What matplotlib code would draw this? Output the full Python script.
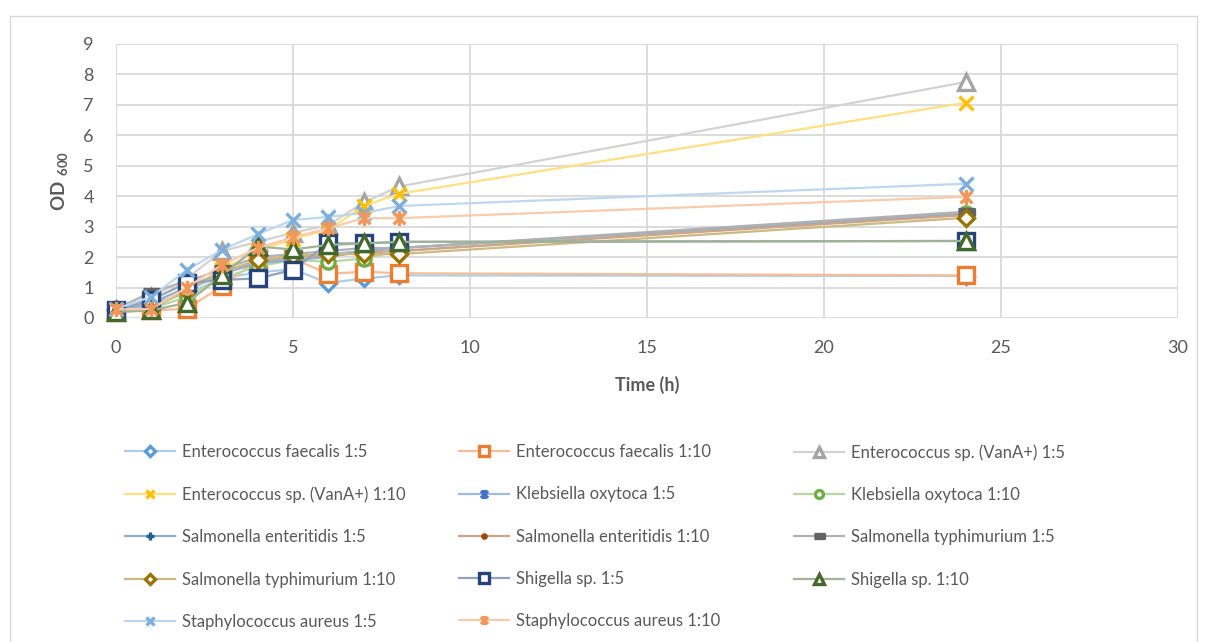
import numpy as np
import matplotlib.pyplot as plt
from matplotlib.patches import Rectangle
from matplotlib.path import Path
from matplotlib.colors import to_rgb

plt.rcParams['font.family'] = ['Lato', 'DejaVu Sans']
plt.rcParams['mathtext.fontset'] = 'custom'
plt.rcParams['mathtext.bf'] = 'Lato:bold'
plt.rcParams['mathtext.rm'] = 'Lato'

# sampling times (h)
hours = [0, 1, 2, 3, 4, 5, 6, 7, 8, 24]

# OD600 readings
ef_5 = [0.30, 0.50, 0.80, 1.30, 1.50, 1.60, 1.15, 1.30, 1.40, 1.38]
ef_10 = [0.20, 0.25, 0.30, 1.05, 1.90, 1.95, 1.45, 1.52, 1.47, 1.40]
vana_5 = [0.25, 0.70, 1.30, 2.20, 2.50, 2.80, 3.05, 3.80, 4.32, 7.75]
vana_10 = [0.20, 0.40, 0.90, 1.60, 2.20, 2.60, 2.90, 3.68, 4.08, 7.07]
kleb_5 = [0.25, 0.40, 0.90, 1.45, 1.80, 2.00, 2.10, 2.20, 2.30, 3.40]
kleb_10 = [0.20, 0.30, 0.70, 1.30, 1.70, 1.90, 1.85, 1.95, 2.20, 3.45]
sent_5 = [0.25, 0.50, 1.00, 1.50, 1.80, 1.90, 2.00, 2.20, 2.30, 3.42]
sent_10 = [0.20, 0.35, 0.90, 1.50, 1.90, 2.00, 2.05, 2.15, 2.20, 3.38]
styph_5 = [0.30, 0.85, 1.20, 1.60, 2.00, 2.10, 2.20, 2.30, 2.30, 3.49]
styph_10 = [0.25, 0.30, 0.90, 1.50, 1.90, 2.05, 2.10, 2.10, 2.10, 3.29]
shig_5 = [0.25, 0.60, 1.15, 1.25, 1.30, 1.58, 2.45, 2.45, 2.50, 2.53]
shig_10 = [0.20, 0.25, 0.50, 1.40, 2.35, 2.25, 2.40, 2.45, 2.50, 2.53]
staph_5 = [0.30, 0.70, 1.58, 2.24, 2.75, 3.22, 3.32, 3.45, 3.68, 4.41]
staph_10 = [0.28, 0.30, 1.00, 1.75, 2.30, 2.65, 2.95, 3.28, 3.28, 3.98]

labels = ['Enterococcus faecalis 1:5', 'Enterococcus faecalis 1:10',
          'Enterococcus sp. (VanA+) 1:5', 'Enterococcus sp. (VanA+) 1:10',
          'Klebsiella oxytoca 1:5', 'Klebsiella oxytoca 1:10',
          'Salmonella enteritidis 1:5', 'Salmonella enteritidis 1:10',
          'Salmonella typhimurium 1:5', 'Salmonella typhimurium 1:10',
          'Shigella sp. 1:5', 'Shigella sp. 1:10',
          'Staphylococcus aureus 1:5', 'Staphylococcus aureus 1:10']
values = [ef_5, ef_10, vana_5, vana_10, kleb_5, kleb_10, sent_5, sent_10,
          styph_5, styph_10, shig_5, shig_10, staph_5, staph_10]

# custom marker shapes
star = Path([(-1, -1), (1, 1), (-1, 1), (1, -1), (0, -1.3), (0, 1.3)],
            [Path.MOVETO, Path.LINETO, Path.MOVETO, Path.LINETO, Path.MOVETO, Path.LINETO])
dash = [(-1, -0.4), (1, -0.4), (1, 0.4), (-1, 0.4)]

# colour, marker, size, hollow
styles = [
    ('#5B9BD5', 'D', 8.5, True),
    ('#ED7D31', 's', 11, True),
    ('#A5A5A5', '^', 11, True),
    ('#FFC000', 'x', 10, False),
    ('#4472C4', star, 11, False),
    ('#70AD47', 'o', 9.5, True),
    ('#255E91', '+', 9, False),
    ('#9E480E', 'o', 4, False),
    ('#636363', dash, 12, False),
    ('#997300', 'D', 8.5, True),
    ('#264478', 's', 11, True),
    ('#43682B', '^', 11, True),
    ('#7CAFDD', 'x', 10, False),
    ('#F1975A', star, 11, False),
]


def lighten(c, k=0.5):
    r, g, b = to_rgb(c)
    return (1 - (1 - r) * k, 1 - (1 - g) * k, 1 - (1 - b) * k)


fig = plt.figure(figsize=(12.06, 6.42), dpi=100)
ax = fig.add_axes([116 / 1206, 1 - 318 / 642, (1178 - 116) / 1206, (318 - 44) / 642])

handles = []
for lab, v, (c, m, ms, hollow) in zip(labels, values, styles):
    h, = ax.plot(hours, v, color=lighten(c), lw=1.6, marker=m, ms=ms,
                 mec=c, mfc='white' if hollow else c, mew=2.4, label=lab,
                 clip_on=False)
    handles.append(h)

ax.set_xlim(0, 30)
ax.set_ylim(0, 9)
ax.set_xticks(range(0, 31, 5))
ax.set_yticks(range(0, 10))
ax.grid(True, color='#D9D9D9', lw=1.3)
ax.set_axisbelow(True)
for s in ax.spines.values():
    s.set_visible(False)
ax.tick_params(length=0, labelsize=13, labelcolor='#595959')
ax.tick_params(axis='x', pad=16)
ax.tick_params(axis='y', pad=16)

ax.set_xlabel('Time (h)', fontsize=13, fontweight='bold', color='#595959', labelpad=14)
ax.set_ylabel(r'$\mathbf{OD}\ _{\mathbf{600}}$', fontsize=13.5, color='#595959')
ax.yaxis.set_label_coords(-0.042, 0.5)

# legend split into three columns
cols = [handles[0::3], handles[1::3], handles[2::3]]
col_x = [125, 459, 794]
for hs, x in zip(cols, col_x):
    fig.legend(handles=hs, loc='upper left', bbox_to_anchor=(x / 1206, 1 - 444 / 642),
               frameon=False, fontsize=12, labelcolor='#595959', handlelength=3.0,
               handletextpad=0.4, labelspacing=1.58, borderpad=0, borderaxespad=0,
               markerscale=0.6)

# chart area frame
fig.add_artist(Rectangle((10 / 1206, -0.01), (1197 - 10) / 1206, 1.01 - 16 / 642,
                         transform=fig.transFigure, fill=False, ec='#D9D9D9', lw=1))

fig.savefig('out.png', dpi=100)
